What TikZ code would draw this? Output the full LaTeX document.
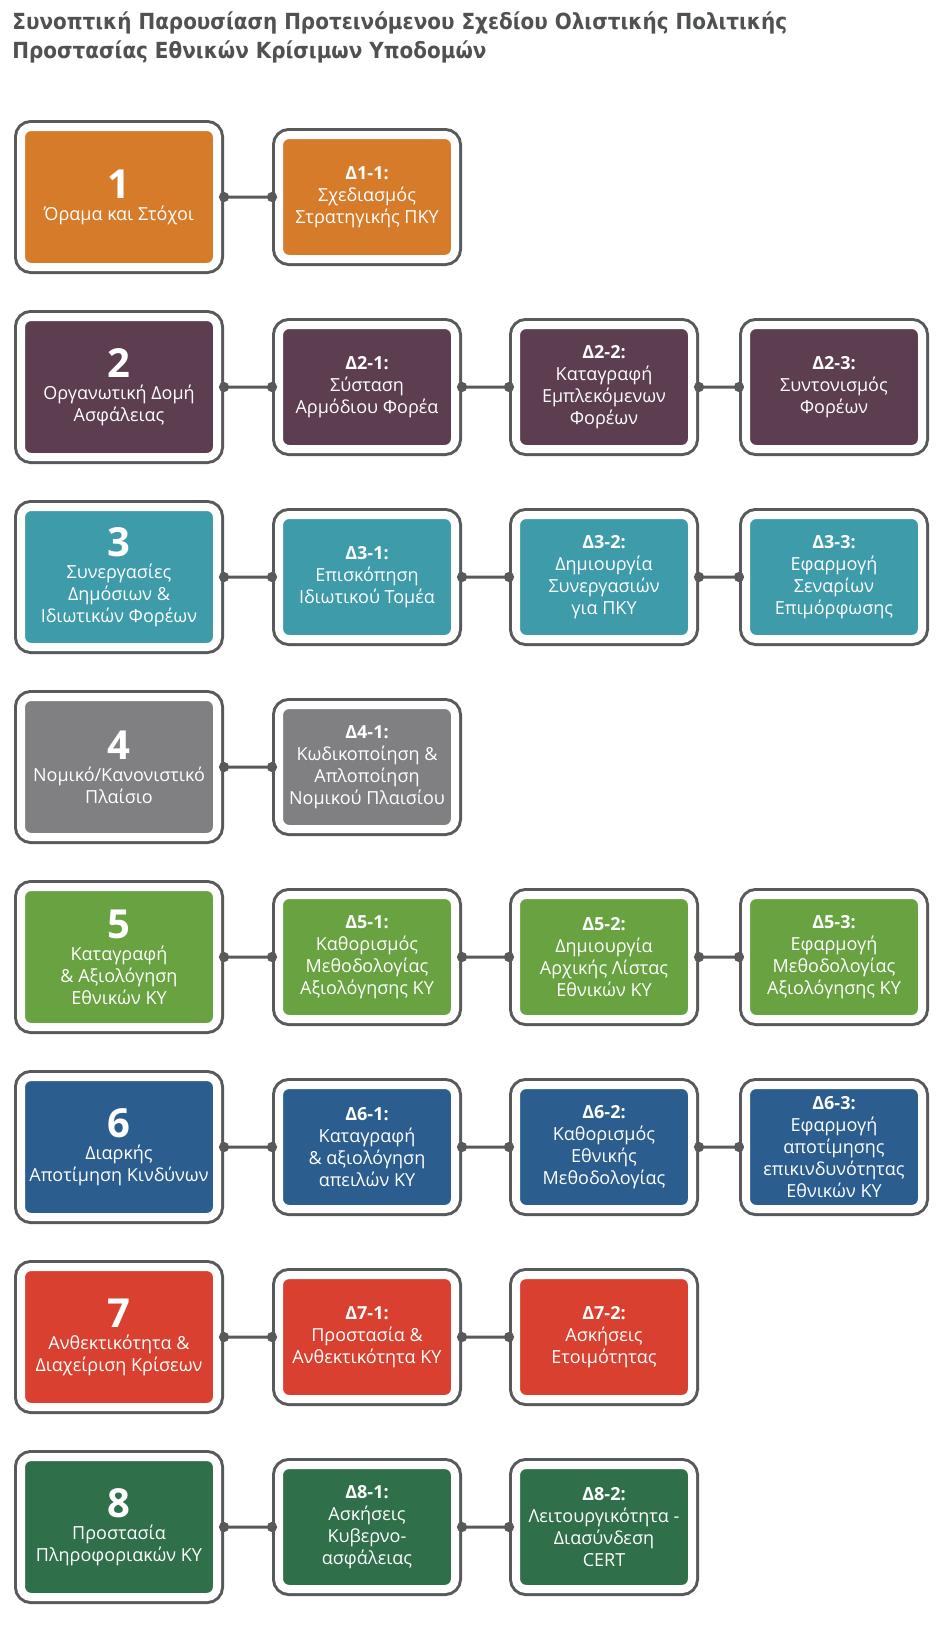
\documentclass[tikz,border=0pt]{standalone}
\usepackage{fontspec}
\setmainfont{Open Sans}
\newfontfamily\titlefont{DejaVu Sans Condensed}
\usetikzlibrary{arrows.meta}
\definecolor{framegray}{HTML}{58595B}
\definecolor{titlegray}{HTML}{505153}
\definecolor{c1}{HTML}{D67B2A}
\definecolor{c2}{HTML}{5D3E51}
\definecolor{c3}{HTML}{3E9BAA}
\definecolor{c4}{HTML}{808083}
\definecolor{c5}{HTML}{69A341}
\definecolor{c6}{HTML}{2B5E8F}
\definecolor{c7}{HTML}{D9402F}
\definecolor{c8}{HTML}{2F704B}
\newcommand{\goalnum}[1]{{\fontsize{20}{21}\selectfont\bfseries #1}}
\begin{document}
\begin{tikzpicture}[
        x=0.5pt, y=-0.5pt,
        every node/.style={font=\fontsize{9}{11}\selectfont, text=white, align=center},
        box/.style={rectangle, rounded corners=5pt, fill=#1, draw=white, line width=4pt,
            preaction={draw=framegray, line width=7pt}, outer sep=3.5pt, inner sep=2pt},
        mainbox/.style={box=#1, minimum width=98pt, minimum height=70pt},
        subbox/.style={box=#1, minimum width=88pt, minimum height=62pt},
        edge from parent/.style={draw=framegray, line width=1.5pt,
            {Circle[length=5pt]}-{Circle[length=5pt]}, shorten <=-2.5pt, shorten >=-2.5pt},
        grow=right,
        level 1/.style={level distance=124pt},
        level 2/.style={level distance=118.5pt},
        level 3/.style={level distance=115pt},
    ]
    \useasboundingbox (0,0) rectangle (947,1629);
    \node[anchor=north west, inner sep=0pt, align=left, text=titlegray,
        font=\titlefont\bfseries\fontsize{11.1}{14.5}\selectfont] (title) at (12,11)
        {Συνοπτική Παρουσίαση Προτεινόμενου Σχεδίου Ολιστικής Πολιτικής\\
         Προστασίας Εθνικών Κρίσιμων Υποδομών};

    \node[mainbox=c1](m1) at (119,197){\goalnum{1}\\Όραμα και Στόχοι}
    child{node[subbox=c1](d11){\textbf{Δ1-1:}\\Σχεδιασμός\\Στρατηγικής ΠΚΥ}};

    \node[mainbox=c2](m2) at (119,387){\goalnum{2}\\Οργανωτική Δομή\\Ασφάλειας}
    child{node[subbox=c2](d21){\textbf{Δ2-1:}\\Σύσταση\\Αρμόδιου Φορέα}
        child{node[subbox=c2](d22){\textbf{Δ2-2:}\\Καταγραφή\\Εμπλεκόμενων\\Φορέων}
            child{node[subbox=c2](d23){\textbf{Δ2-3:}\\Συντονισμός\\Φορέων}}
        }
    };

    \node[mainbox=c3](m3) at (119,577){\goalnum{3}\\Συνεργασίες\\Δημόσιων \&\\Ιδιωτικών Φορέων}
    child{node[subbox=c3](d31){\textbf{Δ3-1:}\\Επισκόπηση\\Ιδιωτικού Τομέα}
        child{node[subbox=c3](d32){\textbf{Δ3-2:}\\Δημιουργία\\Συνεργασιών\\για ΠΚΥ}
            child{node[subbox=c3](d33){\textbf{Δ3-3:}\\Εφαρμογή\\Σεναρίων\\Επιμόρφωσης}}
        }
    };

    \node[mainbox=c4](m4) at (119,767){\goalnum{4}\\Νομικό/Κανονιστικό\\Πλαίσιο}
    child{node[subbox=c4](d41){\textbf{Δ4-1:}\\Κωδικοποίηση \&\\Απλοποίηση\\Νομικού Πλαισίου}};

    \node[mainbox=c5](m5) at (119,957){\goalnum{5}\\Καταγραφή\\\& Αξιολόγηση\\Εθνικών ΚΥ}
    child{node[subbox=c5](d51){\textbf{Δ5-1:}\\Καθορισμός\\Μεθοδολογίας\\Αξιολόγησης ΚΥ}
        child{node[subbox=c5](d52){\textbf{Δ5-2:}\\Δημιουργία\\Αρχικής Λίστας\\Εθνικών ΚΥ}
            child{node[subbox=c5](d53){\textbf{Δ5-3:}\\Εφαρμογή\\Μεθοδολογίας\\Αξιολόγησης ΚΥ}}
        }
    };

    \node[mainbox=c6](m6) at (119,1147){\goalnum{6}\\Διαρκής\\Αποτίμηση Κινδύνων}
    child{node[subbox=c6](d61){\textbf{Δ6-1:}\\Καταγραφή\\\& αξιολόγηση\\απειλών ΚΥ}
        child{node[subbox=c6](d62){\textbf{Δ6-2:}\\Καθορισμός\\Εθνικής\\Μεθοδολογίας}
            child{node[subbox=c6](d63){\textbf{Δ6-3:}\\Εφαρμογή\\αποτίμησης\\επικινδυνότητας\\Εθνικών ΚΥ}}
        }
    };

    \node[mainbox=c7](m7) at (119,1337){\goalnum{7}\\Ανθεκτικότητα \&\\Διαχείριση Κρίσεων}
    child{node[subbox=c7](d71){\textbf{Δ7-1:}\\Προστασία \&\\Ανθεκτικότητα ΚΥ}
        child{node[subbox=c7](d72){\textbf{Δ7-2:}\\Ασκήσεις\\Ετοιμότητας}}
    };

    \node[mainbox=c8](m8) at (119,1527){\goalnum{8}\\Προστασία\\Πληροφοριακών ΚΥ}
    child{node[subbox=c8](d81){\textbf{Δ8-1:}\\Ασκήσεις\\Κυβερνο-\\ασφάλειας}
        child{node[subbox=c8](d82){\textbf{Δ8-2:}\\Λειτουργικότητα -\\Διασύνδεση\\CERT}}
    };
    \end{tikzpicture}
\end{document}
